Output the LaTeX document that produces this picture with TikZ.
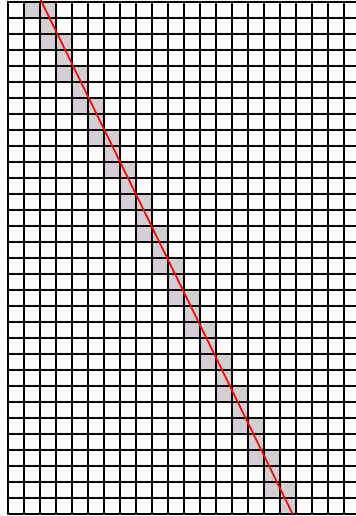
\documentclass[tikz,border=0pt]{standalone}
\usepackage{tikz}
\definecolor{cellgray}{RGB}{211,206,212}

\begin{document}
\begin{tikzpicture}[x=0.5cm, y=0.5cm, line cap=round, line join=round]

\useasboundingbox (-0.5,-0.144) rectangle (21.75,32.106);
\clip (-0.5,-0.144) rectangle (21.75,32.106);

% covered cells
\foreach \k in {0,...,15} {
  \fill[cellgray] ({\k+1},{31-2*\k}) rectangle ++(1,1);
  \fill[cellgray] ({\k+2},{30-2*\k}) rectangle ++(1,2);
}

\draw[line width=1.8pt, black, step=0.5cm] (0,0) grid (22,32);
\draw[line width=1.5pt, red] (2,32.2) -- (17.78,0);

      \end{tikzpicture}
\end{document}
